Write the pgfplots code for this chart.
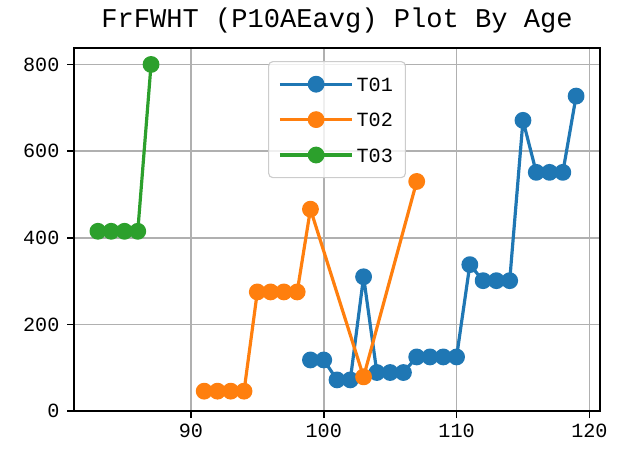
\documentclass[border=0pt]{standalone}
\usepackage{fontspec}
\setmainfont{Liberation Mono}
\usepackage{pgfplots}
\pgfplotsset{compat=1.18}
\definecolor{c0}{HTML}{1F77B4}
\definecolor{c1}{HTML}{FF7F0E}
\definecolor{c2}{HTML}{2CA02C}
\begin{document}
\begin{tikzpicture}
\begin{axis}[
 scale only axis, width=378.7pt, height=261.4pt,
 xmin=81.2, xmax=120.8, ymin=0, ymax=838,
 xtick={90,100,110,120}, ytick={0,200,400,600,800},
 tick align=outside, xtick pos=left, ytick pos=left,
 major tick length=5pt,
 every tick/.style={black, line width=1.2pt},
 axis line style={line width=1.2pt},
 grid=major, major grid style={line width=1.2pt, color=black!31},
 ticklabel style={font=\fontsize{14.5}{16}\selectfont},
 /pgf/number format/assume math mode=true,
 /pgf/number format/1000 sep={},
 xticklabel style={yshift=-1pt},
 yticklabel style={xshift=-2pt},
 title={FrFWHT (P10AEavg) Plot By Age},
 title style={font=\fontsize{19.5}{22}\selectfont, at={(0.5,1)}, anchor=base, yshift=9pt, inner sep=0pt},
 legend style={at={(0.5,0.964)}, anchor=north, draw=black!20, line width=0.8pt, rounded corners=3pt,
   fill=white, fill opacity=0.8, text opacity=1, font=\fontsize{14.5}{16}\selectfont,
   nodes={text height=10.5pt, text depth=0pt}, row sep=11pt, inner xsep=7pt, inner ysep=9pt},
 legend cell align=left,
 legend image code/.code={\draw[fill opacity=1, draw opacity=1, line width=2.3pt, mark repeat=2, mark phase=2] plot coordinates {(0pt,0pt) (26pt,0pt) (52pt,0pt)};},
 every axis plot/.append style={line width=2.3pt, line join=round, mark=*, mark size=4.9pt, mark options={solid, line width=1pt}},
]
\addplot[c0, mark options={fill=c0, draw=c0}] coordinates {
(99,118) (100,118) (101,72) (102,72) (103,310) (104,89) (105,89) (106,89)
(107,125) (108,125) (109,125) (110,125) (111,338) (112,301) (113,301) (114,301)
(115,671) (116,551) (117,551) (118,551) (119,727)};
\addlegendentry{T01}
\addplot[c1, mark options={fill=c1, draw=c1}] coordinates {
(91,46) (92,46) (93,46) (94,46) (95,275) (96,275) (97,275) (98,275) (99,466) (103,79) (107,530)};
\addlegendentry{T02}
\addplot[c2, mark options={fill=c2, draw=c2}] coordinates {
(83,415) (84,415) (85,415) (86,415) (87,800)};
\addlegendentry{T03}
\coordinate (bl) at (rel axis cs:-0.1407,-0.1212);
\coordinate (tr) at (rel axis cs:1.0513,1.1322);
\end{axis}
\path (bl) rectangle (tr);
\end{tikzpicture}
\end{document}
